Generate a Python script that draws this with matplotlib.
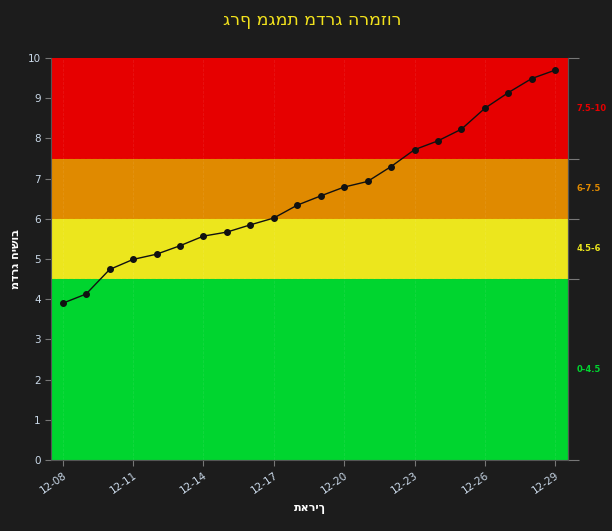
import matplotlib
matplotlib.use("Agg")
import matplotlib.pyplot as plt
import matplotlib.dates as mdates
import pandas as pd

# data
dates = pd.date_range("2023-12-08", "2023-12-29", freq="D")
values = [3.90, 4.13, 4.74, 4.99, 5.12, 5.33, 5.57, 5.67, 5.85, 6.02, 6.34,
          6.57, 6.79, 6.93, 7.30, 7.72, 7.94, 8.23, 8.75, 9.14, 9.49, 9.70]

zone_bounds = [(0, 4.5), (4.5, 6), (6, 7.5), (7.5, 10)]
zone_colors = ["#00d52f", "#ece61d", "#e08a00", "#e60000"]
zone_labels = ["0-4.5", "4.5-6", "6-7.5", "7.5-10"]

title = "גרף מגמת מדרג הרמזור"
ylabel = "מדרג חישוב"
xlabel = "תאריך"

BG = "#1c1c1c"
TICK_COLOR = "#c9d8e8"

fig = plt.figure(figsize=(6.12, 5.31), dpi=100, facecolor=BG)
ax = fig.add_axes([0.0833, 0.1337, 0.845, 0.757])
ax.set_facecolor(BG)

xmin = mdates.date2num(dates[0]) - 0.5
xmax = mdates.date2num(dates[-1]) + 0.55

for (lo, hi), c in zip(zone_bounds, zone_colors):
    ax.axhspan(lo, hi, color=c, zorder=0, lw=0)
    ax.axhline(hi, color=c, lw=0.8, ls="--", zorder=1)

ax.grid(True, axis="x", color="white", alpha=0.08, lw=0.6, ls="--")
ax.plot(dates, values, color="#111111", lw=1.0, marker="o", markersize=4,
        zorder=3)

ax.set_xlim(xmin, xmax)
ax.set_ylim(0, 10)
ax.set_yticks(range(0, 11))
ax.xaxis.set_major_locator(mdates.DayLocator(bymonthday=[8, 11, 14, 17, 20, 23, 26, 29]))
ax.xaxis.set_major_formatter(mdates.DateFormatter("%m-%d"))
ax.tick_params(axis="both", colors="#777777", labelcolor=TICK_COLOR,
               labelsize=7.5, length=4)
plt.setp(ax.get_xticklabels(), rotation=35, ha="right", rotation_mode="anchor")

ax.spines["top"].set_visible(False)
for side in ["left", "bottom", "right"]:
    ax.spines[side].set_color("#555555")

# right axis with zone labels
ax2 = ax.twinx()
ax2.set_ylim(0, 10)
ax2.set_yticks([0, 4.5, 6, 7.5, 10])
ax2.set_yticklabels([])
ax2.tick_params(axis="y", colors="#777777", length=8)
for side in ["top", "left", "bottom"]:
    ax2.spines[side].set_visible(False)
ax2.spines["right"].set_color("#555555")
for (lo, hi), c, lab in zip(zone_bounds, zone_colors, zone_labels):
    ax2.text(1.016, (lo + hi) / 2 / 10, lab, transform=ax2.transAxes,
             color=c, fontsize=6, fontweight="bold", va="center", ha="left")

ax.set_ylabel(ylabel, color="white", fontsize=8, fontweight="bold",
              labelpad=5)
ax.set_xlabel(xlabel, color="white", fontsize=8, fontweight="bold",
              labelpad=6)
fig.text(0.51, 0.962, title, color="#f2e21c", fontsize=12.5,
         ha="center", va="center")

fig.savefig("out.png", dpi=100, facecolor=BG)
